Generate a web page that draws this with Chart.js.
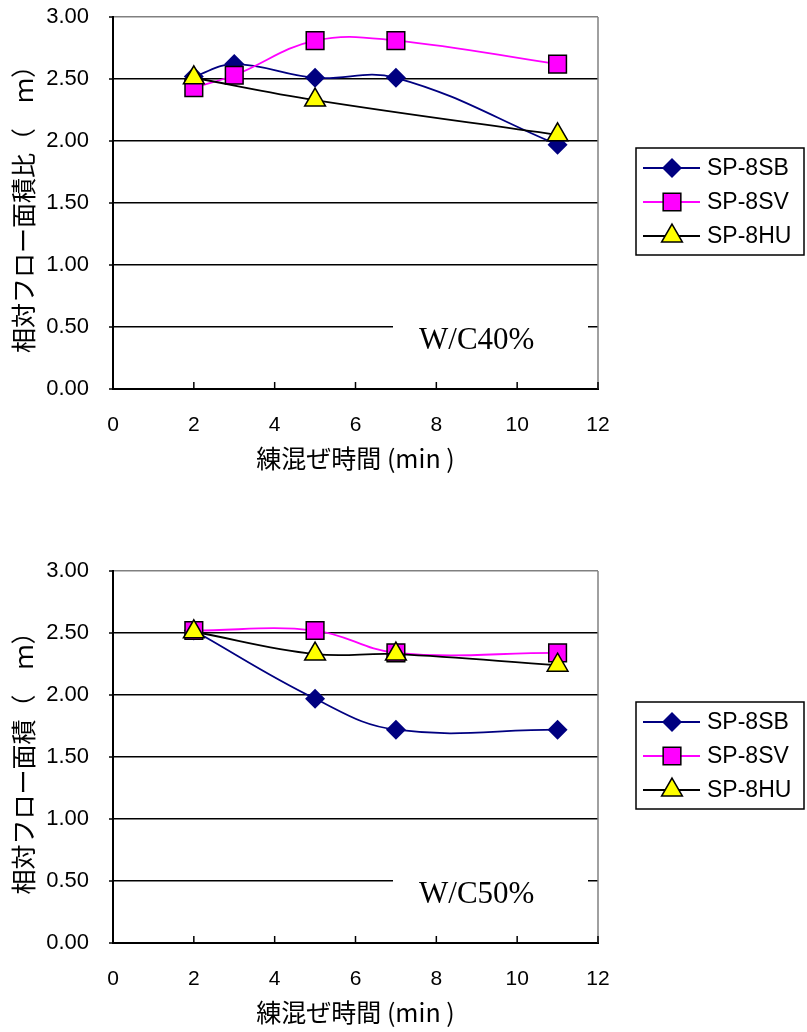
<!DOCTYPE html>
<html>
<head>
<meta charset="utf-8">
<script src="https://cdn.jsdelivr.net/npm/chart.js"></script>
<style>
  body { margin: 0; background: #fff; }
  canvas { position: absolute; left: 0; }
  #chart40 { top: 0; }
  #chart50 { top: 554px; }
</style>
</head>
<body>
<canvas id="chart40" width="807" height="478"></canvas>
<canvas id="chart50" width="807" height="478"></canvas>
<script>
// W/C40% (upper chart)
const minutes40 = [2, 3, 5, 7, 11];
const sb40 = [2.52, 2.62, 2.51, 2.51, 1.97];
const sv40 = [2.43, 2.53, 2.81, 2.81, 2.62];
const huMinutes40 = [2, 5, 11];
const hu40 = [2.51, 2.33, 2.05];

// W/C50% (lower chart)
const minutes50 = [2, 5, 7, 11];
const sb50 = [2.52, 1.97, 1.72, 1.72];
const sv50 = [2.52, 2.52, 2.34, 2.34];
const hu50 = [2.51, 2.33, 2.33, 2.24];

const seriesNames = ['SP-8SB', 'SP-8SV', 'SP-8HU'];
const xTicks = [0, 2, 4, 6, 8, 10, 12];
const yTicks = [0, 0.5, 1, 1.5, 2, 2.5, 3];

const sansFamily = "'Liberation Sans', Arial, sans-serif";
const cjkFont = { family: "'Noto Sans CJK JP', sans-serif", size: 25 };

function points(xs, ys) {
    return xs.map((x, i) => ({ x: x, y: ys[i] }));
}

// gray frame on the right, white box + note, short tick marks
const framePlugin = {
    id: 'frameNote',
    beforeDatasetsDraw(chart, args, opts) {
        const { ctx, chartArea: a, scales } = chart;
        ctx.save();
        ctx.strokeStyle = '#808080';
        ctx.lineWidth = 1.5;
        ctx.beginPath();
        ctx.moveTo(a.right, a.top);
        ctx.lineTo(a.right, a.bottom);
        ctx.stroke();

        // note box hides the 0.50 grid line
        const yMid = scales.y.getPixelForValue(0.4);
        ctx.fillStyle = '#fff';
        ctx.fillRect(a.left + 280, yMid - 22, a.right - a.left - 290, 44);
        ctx.fillStyle = '#000';
        ctx.font = "31px 'Liberation Serif', 'Times New Roman', serif";
        ctx.textAlign = 'center';
        ctx.textBaseline = 'middle';
        ctx.fillText(opts.note, scales.x.getPixelForValue(9), yMid + 1);

        ctx.strokeStyle = '#000';
        ctx.lineWidth = 1.5;
        // x ticks point up into the plot
        xTicks.forEach(v => {
            const px = scales.x.getPixelForValue(v);
            ctx.beginPath();
            ctx.moveTo(px, a.bottom);
            ctx.lineTo(px, a.bottom - 7);
            ctx.stroke();
        });
        // y ticks are short and outside
        yTicks.forEach(v => {
            const py = scales.y.getPixelForValue(v);
            ctx.beginPath();
            ctx.moveTo(a.left - 4, py);
            ctx.lineTo(a.left, py);
            ctx.stroke();
        });
        ctx.restore();
    },
    afterDraw(chart) {
        // boxed legend on the right
        const ctx = chart.ctx;
        const left = 636, top = 148, w = 168, h = 107;
        ctx.save();
        ctx.strokeStyle = '#000';
        ctx.lineWidth = 1.5;
        ctx.strokeRect(left, top, w, h);
        chart.data.datasets.forEach((ds, i) => {
            const y = top + 20 + i * 34;
            ctx.strokeStyle = ds.borderColor;
            ctx.lineWidth = ds.borderWidth;
            ctx.beginPath();
            ctx.moveTo(left + 7, y);
            ctx.lineTo(left + 64, y);
            ctx.stroke();
            ctx.fillStyle = ds.pointBackgroundColor;
            ctx.strokeStyle = ds.pointBorderColor;
            ctx.lineWidth = ds.pointBorderWidth;
            Chart.helpers.drawPoint(ctx, {
                pointStyle: ds.pointStyle, radius: ds.pointRadius,
                borderWidth: ds.pointBorderWidth, rotation: 0
            }, left + 36, y);
            ctx.fillStyle = '#000';
            ctx.font = "23px " + sansFamily;
            ctx.textAlign = 'left';
            ctx.textBaseline = 'middle';
            ctx.fillText(ds.label, left + 71, y + 1);
        });
        ctx.restore();
    }
};

function makeChart(id, yTitle, note, sbData, svData, huData) {
    new Chart(document.getElementById(id), {
        type: 'line',
        data: {
            datasets: [{
                label: seriesNames[0],
                data: sbData,
                borderColor: '#000080',
                borderWidth: 1.8,
                pointStyle: 'rectRot',
                pointRadius: 10,
                pointBackgroundColor: '#000080',
                pointBorderColor: '#000080',
                pointBorderWidth: 0,
                tension: 0.4,
                order: 3
            }, {
                label: seriesNames[1],
                data: svData,
                borderColor: '#FF00FF',
                borderWidth: 1.8,
                pointStyle: 'rect',
                pointRadius: 12.5,
                pointBackgroundColor: '#FF00FF',
                pointBorderColor: '#000',
                pointBorderWidth: 1.5,
                tension: 0.4,
                order: 2
            }, {
                label: seriesNames[2],
                data: huData,
                borderColor: '#000',
                borderWidth: 1.8,
                pointStyle: 'triangle',
                pointRadius: 12,
                pointBackgroundColor: '#FFFF00',
                pointBorderColor: '#000',
                pointBorderWidth: 1.5,
                tension: 0.4,
                order: 1
            }]
        },
        options: {
            responsive: false,
            animation: false,
            layout: { padding: { left: 0, right: 209, top: 17, bottom: 0 } },
            plugins: {
                legend: { display: false },
                tooltip: { enabled: false },
                frameNote: { note: note }
            },
            scales: {
                x: {
                    type: 'linear',
                    min: 0, max: 12,
                    afterBuildTicks: s => { s.ticks = xTicks.map(v => ({ value: v })); },
                    afterFit: s => { s.height = 89; },
                    grid: { drawOnChartArea: false, drawTicks: false },
                    border: { color: '#000', width: 2 },
                    ticks: {
                        color: '#000', font: { family: sansFamily, size: 21 },
                        padding: 24, maxRotation: 0, autoSkip: false
                    },
                    title: {
                        display: true, text: '練混ぜ時間 (min )', color: '#000',
                        font: cjkFont, padding: { top: 0, bottom: 5 }
                    }
                },
                y: {
                    min: 0, max: 3,
                    afterBuildTicks: s => { s.ticks = yTicks.map(v => ({ value: v })); },
                    afterFit: s => { s.width = 113; },
                    grid: {
                        color: c => (c.tick && c.tick.value === 3) ? '#808080' : '#000',
                        lineWidth: 1.5,
                        // invisible, only used to keep the labels away from the axis
                        tickColor: 'rgba(0,0,0,0)',
                        tickLength: 24
                    },
                    border: { color: '#000', width: 2 },
                    ticks: {
                        color: '#000', font: { family: sansFamily, size: 22 }, padding: 0,
                        callback: v => v.toFixed(2)
                    },
                    title: {
                        display: true, text: yTitle, color: '#000',
                        font: cjkFont, padding: { top: 8, bottom: 0 }
                    }
                }
            }
        },
        plugins: [framePlugin]
    });
}

makeChart('chart40', '相対フロー面積比（　ｍ）', 'W/C40%',
    points(minutes40, sb40), points(minutes40, sv40), points(huMinutes40, hu40));
makeChart('chart50', '相対フロー面積（　ｍ）', 'W/C50%',
    points(minutes50, sb50), points(minutes50, sv50), points(minutes50, hu50));
</script>
</body>
</html>
